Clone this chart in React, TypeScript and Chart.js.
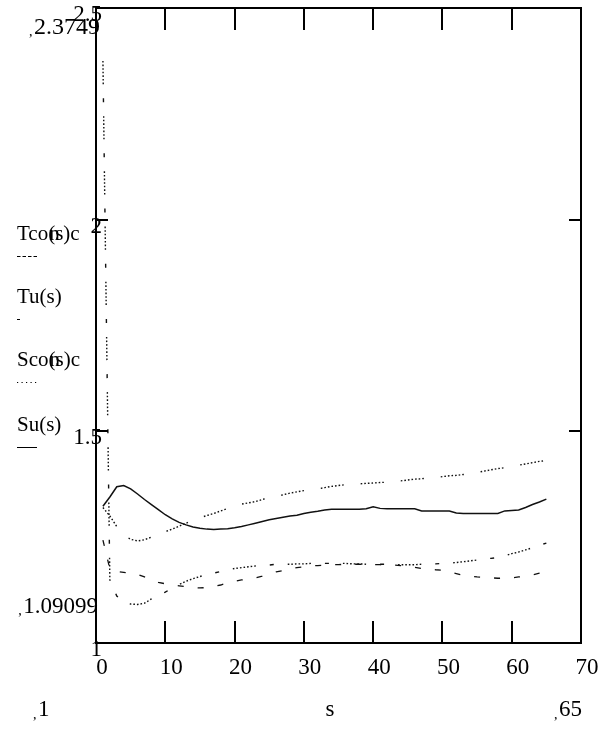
import { useEffect, useRef } from "react";
import { Chart, registerables } from "chart.js";

Chart.register(...registerables);

// Sample index s = 1 .. 65
const sValues = [
  1, 2, 3, 4, 5, 6, 7, 8, 9, 10, 11, 12, 13, 14, 15, 16, 17, 18, 19, 20,
  21, 22, 23, 24, 25, 26, 27, 28, 29, 30, 31, 32, 33, 34, 35, 36, 37, 38, 39, 40,
  41, 42, 43, 44, 45, 46, 47, 48, 49, 50, 51, 52, 53, 54, 55, 56, 57, 58, 59, 60,
  61, 62, 63, 64, 65,
];

const tconc = [
  1.243, 1.175, 1.169, 1.167, 1.165, 1.162, 1.156, 1.148, 1.143, 1.14,
  1.137, 1.135, 1.133, 1.131, 1.13, 1.131, 1.134, 1.137, 1.142, 1.146,
  1.149, 1.151, 1.154, 1.158, 1.163, 1.168, 1.171, 1.175, 1.178, 1.18,
  1.182, 1.183, 1.184, 1.185, 1.185, 1.186, 1.186, 1.186, 1.185, 1.185,
  1.185, 1.184, 1.184, 1.183, 1.182, 1.179, 1.176, 1.175, 1.173, 1.172,
  1.168, 1.164, 1.16, 1.158, 1.156, 1.155, 1.154, 1.153, 1.153, 1.154,
  1.156, 1.158, 1.161, 1.165, 1.169,
];

const tu = [
  2.3749, 1.149, 1.111, 1.097, 1.092, 1.09099, 1.094, 1.104, 1.113, 1.12,
  1.13, 1.138, 1.146, 1.152, 1.157, 1.162, 1.165, 1.169, 1.172, 1.176,
  1.178, 1.18, 1.182, 1.183, 1.184, 1.186, 1.186, 1.186, 1.187, 1.187,
  1.188, 1.188, 1.188, 1.188, 1.188, 1.188, 1.187, 1.187, 1.186, 1.186,
  1.186, 1.186, 1.185, 1.185, 1.185, 1.185, 1.186, 1.187, 1.187, 1.188,
  1.189, 1.19, 1.192, 1.194, 1.196, 1.198, 1.2, 1.202, 1.206, 1.211,
  1.215, 1.22, 1.225, 1.231, 1.236,
];

const sconc = [
  1.32, 1.3, 1.275, 1.255, 1.245, 1.241, 1.244, 1.25, 1.256, 1.263,
  1.269, 1.276, 1.283, 1.29, 1.296, 1.301, 1.306, 1.312, 1.318, 1.324,
  1.328, 1.331, 1.334, 1.339, 1.343, 1.346, 1.35, 1.354, 1.357, 1.36,
  1.362, 1.364, 1.367, 1.37, 1.372, 1.374, 1.375, 1.376, 1.377, 1.378,
  1.379, 1.38, 1.382, 1.383, 1.385, 1.387, 1.388, 1.39, 1.391, 1.393,
  1.395, 1.396, 1.398, 1.4, 1.403, 1.406, 1.409, 1.412, 1.414, 1.417,
  1.42, 1.423, 1.426, 1.429, 1.431,
];

const su = [
  1.323, 1.345, 1.369, 1.372, 1.364, 1.352, 1.339, 1.327, 1.315, 1.303,
  1.293, 1.285, 1.279, 1.274, 1.271, 1.269, 1.268, 1.269, 1.27, 1.272,
  1.275, 1.279, 1.283, 1.287, 1.291, 1.294, 1.297, 1.3, 1.302, 1.306,
  1.309, 1.311, 1.314, 1.316, 1.316, 1.316, 1.316, 1.316, 1.317, 1.322,
  1.318, 1.317, 1.317, 1.317, 1.317, 1.317, 1.312, 1.312, 1.312, 1.312,
  1.312, 1.307, 1.306, 1.306, 1.306, 1.306, 1.306, 1.306, 1.312, 1.313,
  1.314, 1.32, 1.327, 1.333, 1.34,
];

// Legend names split as: head, argument, tail (the "n" of conc sits under the argument)
const seriesNames = ["Tconc(s)", "Tu(s)", "Sconc(s)", "Su(s)"];
const legendParts: [string, string, string, string][] = [
  ["Tco", "n", "(s)", "c"],
  ["Tu", "", "(s)", ""],
  ["Sco", "n", "(s)", "c"],
  ["Su", "", "(s)", ""],
];

const xTicks = [0, 10, 20, 30, 40, 50, 60, 70];
const yTicks = [1, 1.5, 2, 2.5];
const yTickLabels = ["1", "1.5", "2", "2.5"];

const yUpperLimit = "2.3749";
const yLowerLimit = "1.09099";
const xLowerLimit = "1";
const xUpperLimit = "65";
const xTitle = "s";

const FONT = '"Liberation Serif", "Times New Roman", serif';

// Dotted runs separated by a gap, optionally followed by a short dash
const dotRun = (n: number) => {
  const out: number[] = [];
  for (let i = 0; i < n; i++) out.push(1.6, 2.0);
  return out;
};
const dashPatterns: number[][] = [
  [6, 14],
  [...dotRun(7).slice(0, -1), 14, 4, 14],
  [...dotRun(7).slice(0, -1), 17],
  [],
];
const lineWidths = [1.3, 1.4, 1.4, 1.5];
const legendPatterns: number[][] = [[3.5, 2], [3, 40], [1.2, 3.3], []];

const toPoints = (ys: number[]) => sValues.map((s, i) => ({ x: s, y: ys[i] }));

const decorPlugin = {
  id: "mathcadDecor",
  afterDraw(chart: any) {
    const { ctx, chartArea } = chart;
    const xs = chart.scales.x;
    const ys = chart.scales.y;
    const { left, right, top, bottom } = chartArea;
    ctx.save();
    ctx.fillStyle = "#000";
    ctx.strokeStyle = "#000";

    // inner ticks
    ctx.lineWidth = 2;
    ctx.setLineDash([]);
    ctx.beginPath();
    xTicks.forEach((v) => {
      const px = Math.round(xs.getPixelForValue(v));
      if (v === xs.min || v === xs.max) return;
      ctx.moveTo(px, bottom);
      ctx.lineTo(px, bottom - 22);
      ctx.moveTo(px, top);
      ctx.lineTo(px, top + 22);
    });
    yTicks.forEach((v) => {
      const py = Math.round(ys.getPixelForValue(v));
      if (v === ys.min || v === ys.max) return;
      ctx.moveTo(left, py);
      ctx.lineTo(left + 12, py);
      ctx.moveTo(right, py);
      ctx.lineTo(right - 12, py);
    });
    ctx.stroke();

    // frame
    ctx.lineWidth = 2;
    ctx.strokeRect(left, top, right - left, bottom - top);

    // tick labels
    ctx.font = `23px ${FONT}`;
    ctx.textBaseline = "middle";
    ctx.textAlign = "center";
    xTicks.forEach((v) => {
      ctx.fillText(String(v), xs.getPixelForValue(v) + 6, bottom + 25);
    });
    ctx.textAlign = "right";
    yTicks.forEach((v, i) => {
      ctx.fillText(yTickLabels[i], left + 6, ys.getPixelForValue(v) + 7);
    });

    // range limits with their corner marks
    ctx.font = `24px ${FONT}`;
    ctx.textAlign = "right";
    const upW = ctx.measureText(yUpperLimit).width;
    ctx.fillText(yUpperLimit, left + 4, top + 20);
    ctx.font = `23px ${FONT}`;
    const loW = ctx.measureText(yLowerLimit).width;
    ctx.fillText(yLowerLimit, left + 2, bottom - 36);
    ctx.font = `14px ${FONT}`;
    ctx.textAlign = "left";
    ctx.fillText(",", left + 4 - upW - 5, top + 24);
    ctx.fillText(",", left + 2 - loW - 5, bottom - 32);

    // x range and title
    ctx.font = `23px ${FONT}`;
    ctx.textAlign = "left";
    ctx.fillText(xLowerLimit, 38, bottom + 67);
    ctx.textAlign = "right";
    ctx.fillText(xUpperLimit, 582, bottom + 67);
    ctx.textAlign = "center";
    ctx.fillText(xTitle, 330, bottom + 67);
    const w65 = ctx.measureText(xUpperLimit).width;
    ctx.font = `14px ${FONT}`;
    ctx.textAlign = "left";
    ctx.fillText(",", 33, bottom + 72);
    ctx.fillText(",", 582 - w65 - 5, bottom + 72);

    // legend: labels with a line sample under each
    ctx.font = `21px ${FONT}`;
    ctx.textAlign = "left";
    const legendY = [234, 297, 360, 425];
    legendParts.forEach(([head, hidden, arg, tail], i) => {
      const y = legendY[i];
      let x = 17;
      ctx.fillText(head, x, y);
      x += ctx.measureText(head).width;
      if (hidden) ctx.fillText(hidden, x + 1, y);
      ctx.fillText(arg, x, y);
      x += ctx.measureText(arg).width;
      if (tail) ctx.fillText(tail, x, y);
      ctx.save();
      ctx.lineWidth = 1;
      ctx.setLineDash(legendPatterns[i]);
      ctx.beginPath();
      ctx.moveTo(17, y + 22.5);
      ctx.lineTo(37, y + 22.5);
      ctx.stroke();
      ctx.restore();
    });
    ctx.restore();
  },
};

export default function App() {
  const canvasRef = useRef<HTMLCanvasElement | null>(null);

  useEffect(() => {
    const canvas = canvasRef.current;
    if (!canvas) return;
    const allSeries = [tconc, tu, sconc, su];
    const chart = new Chart(canvas, {
      type: "line",
      data: {
        datasets: allSeries.map((ys, i) => ({
          label: seriesNames[i],
          data: toPoints(ys),
          borderColor: "#111",
          borderWidth: lineWidths[i],
          borderDash: dashPatterns[i],
          pointRadius: 0,
          tension: 0,
          fill: false,
        })),
      },
      options: {
        responsive: false,
        animation: false,
        devicePixelRatio: 1,
        layout: { padding: { left: 96, right: 24, top: 8, bottom: 87 } },
        plugins: { legend: { display: false }, tooltip: { enabled: false } },
        scales: {
          x: {
            type: "linear",
            min: 0,
            max: 70,
            grid: { display: false },
            border: { display: false },
            ticks: { display: false },
            afterFit: (s: any) => {
              s.height = 0;
            },
          },
          y: {
            type: "linear",
            min: 1,
            max: 2.5,
            grid: { display: false },
            border: { display: false },
            ticks: { display: false },
            afterFit: (s: any) => {
              s.width = 0;
            },
          },
        },
      },
      plugins: [decorPlugin],
    });
    return () => chart.destroy();
  }, []);

  return (
    <div style={{ position: "fixed", left: 0, top: 0, width: 605, height: 730, background: "#fff" }}>
      <canvas ref={canvasRef} width={605} height={730} />
    </div>
  );
}
